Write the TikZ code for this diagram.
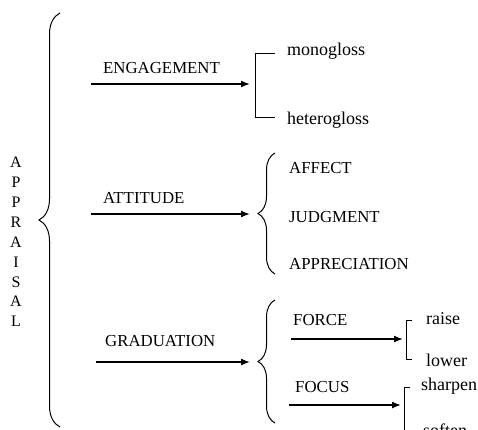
\documentclass[tikz,border=0pt]{standalone}
\usepackage{fontspec}
\setmainfont{Liberation Serif}
\usetikzlibrary{positioning,arrows.meta,decorations.pathreplacing}
\tikzstyle{chart} = [x = 1pt, y = -1pt]
\tikzstyle{capsText} = [font=\fontsize{16.8}{19}\selectfont, inner sep=0pt, anchor=west]
\tikzstyle{leafText} = [font=\fontsize{18}{21}\selectfont, inner sep=0pt, anchor=west]
\tikzstyle{branchArrow} = [line width=1.4pt, -{Latex[length=9pt,width=7pt]}]
\tikzstyle{bracketLine} = [line width=1pt]
\tikzstyle{bigBrace} = [line width=1pt, decorate, decoration={brace, amplitude=21pt}]
\tikzstyle{smallBrace} = [line width=1pt, decorate, decoration={brace, amplitude=17pt}]
\newcommand{\branchArrow}[4]{\coordinate (#1Start) at (#2, #3); \coordinate (#1End) at (#4, #3); \draw [branchArrow] (#1Start) -- (#1End);}
\newcommand{\squareBracket}[5]{
  \coordinate (#1Top) at (#2, #3);
  \coordinate (#1Bottom) at (#2, #4);
  \draw [bracketLine] (#1Top) ++(#5, 0) -- (#1Top) -- (#1Bottom) -- +(#5, 0);
}
\newcommand{\curlyBrace}[4]{
  \coordinate (#1Top) at (#2, #3);
  \coordinate (#1Bottom) at (#2, #4);
  \draw [smallBrace] (#1Bottom) -- (#1Top);
}
\begin{document}
\begin{tikzpicture}[chart]
        \clip (0,0) rectangle (478,429);
        \fill [white] (0,0) rectangle (478,429);

        % root
        \node [font=\fontsize{16}{19.9}\selectfont, align=center, inner sep=0pt] (appraisal) at (16,242) {A\\P\\P\\R\\A\\I\\S\\A\\L};
        \coordinate (rootTop) at (60,13);
        \coordinate (rootBottom) at (60,427);
        \draw [bigBrace] (rootBottom) -- (rootTop);

        % engagement
        \node [capsText] (engagement) at (103,68) {ENGAGEMENT};
        \branchArrow{engagement}{91}{84}{250}
        \squareBracket{gloss}{255}{53}{117}{20}
        \node [leafText] (monogloss) at (287,51) {monogloss};
        \node [leafText] (heterogloss) at (287,120) {heterogloss};

        % attitude
        \node [capsText] (attitude) at (103,198) {ATTITUDE};
        \branchArrow{attitude}{91}{214}{250}
        \curlyBrace{attitudeBrace}{275}{153}{274}
        \node [capsText] (affect) at (289,168) {AFFECT};
        \node [capsText] (judgment) at (289,217) {JUDGMENT};
        \node [capsText] (appreciation) at (289,264) {APPRECIATION};

        % graduation
        \node [capsText] (graduation) at (105,341) {GRADUATION};
        \branchArrow{graduation}{96}{362}{250}
        \curlyBrace{graduationBrace}{275}{300}{423}

        \node [capsText] (force) at (293,320) {FORCE};
        \branchArrow{force}{291}{339}{403}
        \squareBracket{forceBracket}{406}{320}{359}{6}
        \node [leafText] (raise) at (426,319) {raise};
        \node [leafText] (lower) at (426,360) {lower};

        \node [capsText] (focus) at (295,387) {FOCUS};
        \branchArrow{focus}{289}{405}{401}
        \squareBracket{focusBracket}{404}{387}{440}{6}
        \node [leafText] (sharpen) at (421,386) {sharpen};
        \node [leafText] (soften) at (423,430) {soften};
      \end{tikzpicture}
\end{document}
